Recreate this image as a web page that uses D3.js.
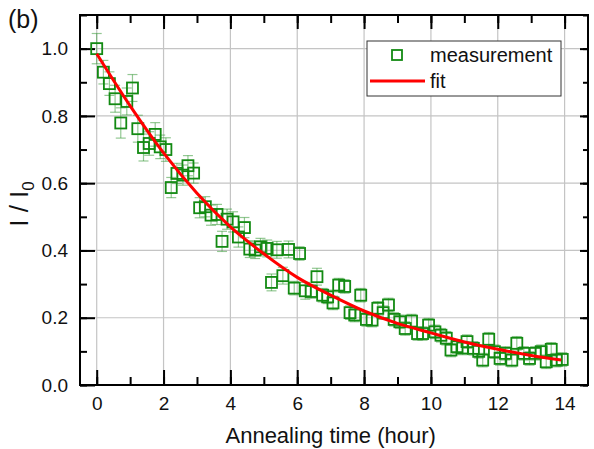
<!DOCTYPE html>
<html>
<head>
<meta charset="utf-8">
<script src="https://cdn.jsdelivr.net/npm/d3@7"></script>
<style>
  body { margin: 0; background: #fff; }
  text { font-family: "Liberation Sans", Arial, sans-serif; fill: #111; }
</style>
</head>
<body>
<div id="chart"></div>
<script>
// measured points (annealing time in hours, normalized intensity)
const times = [0.00, 0.20, 0.38, 0.55, 0.72, 0.90, 1.07, 1.23, 1.40, 1.57, 1.75, 1.90, 2.07, 2.23, 2.40, 2.58,
  2.73, 2.90, 3.08, 3.25, 3.42, 3.60, 3.75, 3.90, 4.08, 4.24, 4.42, 4.58, 4.74, 4.90, 5.10, 5.23, 5.39, 5.57,
  5.74, 5.91, 6.07, 6.24, 6.42, 6.59, 6.76, 6.91, 7.07, 7.24, 7.42, 7.58, 7.72, 7.90, 8.07, 8.24, 8.41, 8.57,
  8.73, 8.90, 9.07, 9.23, 9.42, 9.60, 9.75, 9.93, 10.12, 10.30, 10.46, 10.60, 10.78, 10.95, 11.08, 11.27,
  11.43, 11.55, 11.73, 11.90, 12.07, 12.23, 12.42, 12.57, 12.78, 12.95, 13.12, 13.30, 13.45, 13.60, 13.75, 13.93];
const intensity = [1.000, 0.930, 0.896, 0.851, 0.779, 0.843, 0.883, 0.762, 0.706, 0.718, 0.745, 0.708, 0.700, 0.587,
  0.629, 0.624, 0.652, 0.630, 0.527, 0.530, 0.505, 0.507, 0.427, 0.493, 0.485, 0.440, 0.468, 0.404, 0.401, 0.411,
  0.406, 0.305, 0.402, 0.325, 0.403, 0.288, 0.391, 0.280, 0.278, 0.322, 0.267, 0.262, 0.244, 0.297, 0.293, 0.215,
  0.208, 0.267, 0.195, 0.193, 0.228, 0.215, 0.238, 0.195, 0.188, 0.168, 0.190, 0.153, 0.153, 0.178, 0.158, 0.148,
  0.139, 0.104, 0.114, 0.110, 0.129, 0.109, 0.100, 0.074, 0.136, 0.099, 0.079, 0.094, 0.074, 0.124, 0.094, 0.079,
  0.094, 0.099, 0.069, 0.106, 0.074, 0.076];
const errors = [0.045, 0.035, 0.035, 0.040, 0.045, 0.040, 0.040, 0.040, 0.040, 0.035, 0.035, 0.035, 0.035, 0.030,
  0.030, 0.030, 0.030, 0.030, 0.030, 0.030, 0.030, 0.030, 0.030, 0.030, 0.030, 0.030, 0.030, 0.025, 0.025, 0.025,
  0.025, 0.025, 0.025, 0.025, 0.025, 0.020, 0.020, 0.025, 0.020, 0.025, 0.020, 0.020, 0.020, 0.020, 0.020, 0.020,
  0.020, 0.020, 0.020, 0.020, 0.020, 0.020, 0.020, 0.020, 0.020, 0.020, 0.020, 0.020, 0.020, 0.020, 0.020, 0.020,
  0.020, 0.020, 0.020, 0.020, 0.020, 0.020, 0.020, 0.020, 0.020, 0.020, 0.020, 0.020, 0.020, 0.020, 0.020, 0.020,
  0.020, 0.020, 0.020, 0.020, 0.020, 0.020];

// fit curve at each hour
const fitTimes = [0, 1, 2, 3, 4, 5, 6, 7, 8, 9, 10, 11, 12, 13, 13.9];
const fitValues = [0.985, 0.83, 0.69, 0.57, 0.47, 0.39, 0.32, 0.267, 0.22, 0.183, 0.155, 0.128, 0.106, 0.088, 0.074];

const xTicks = [0, 2, 4, 6, 8, 10, 12, 14];
const yTicks = [0.0, 0.2, 0.4, 0.6, 0.8, 1.0];

const WIDTH = 594, HEIGHT = 449;
const MARGIN = { LEFT: 80, RIGHT: 6, TOP: 15, BOTTOM: 64 };
const W = WIDTH - MARGIN.LEFT - MARGIN.RIGHT;
const H = HEIGHT - MARGIN.TOP - MARGIN.BOTTOM;

const svg = d3.select("#chart").append("svg")
  .attr("width", WIDTH)
  .attr("height", HEIGHT);

const g = svg.append("g")
  .attr("transform", `translate(${MARGIN.LEFT}, ${MARGIN.TOP})`);

const x = d3.scaleLinear().domain([-0.5, 14.7]).range([0, W]);
const y = d3.scaleLinear().domain([0, 1.1]).range([H, 0]);

// grid
g.append("g").selectAll("line").data(xTicks).join("line")
  .attr("x1", d => x(d)).attr("x2", d => x(d))
  .attr("y1", 0).attr("y2", H)
  .attr("stroke", "#c4c4c4").attr("stroke-width", 1.2);
g.append("g").selectAll("line").data(yTicks.filter(d => d > 0)).join("line")
  .attr("x1", 0).attr("x2", W)
  .attr("y1", d => y(d)).attr("y2", d => y(d))
  .attr("stroke", "#c4c4c4").attr("stroke-width", 1.2);

// inward ticks on all four sides
const xMinor = d3.range(0, 15, 1);
const yMinor = d3.range(0, 1.11, 0.1);

function styleAxis(sel) {
  sel.select(".domain").remove();
  sel.selectAll(".tick line").attr("stroke", "#000").attr("stroke-width", 2);
  sel.selectAll(".tick text").style("font-size", "19px").attr("fill", "#111");
}

g.append("g").attr("transform", `translate(0, ${H})`)
  .call(d3.axisBottom(x).tickValues(xMinor).tickSize(-8).tickFormat(""))
  .call(styleAxis);
g.append("g").attr("transform", `translate(0, ${H})`)
  .call(d3.axisBottom(x).tickValues(xTicks).tickSize(-15).tickPadding(12).tickFormat(d3.format("d")))
  .call(styleAxis);
g.append("g")
  .call(d3.axisTop(x).tickValues(xMinor).tickSize(-8).tickFormat(""))
  .call(styleAxis);
g.append("g")
  .call(d3.axisTop(x).tickValues(xTicks).tickSize(-14).tickFormat(""))
  .call(styleAxis);

g.append("g")
  .call(d3.axisLeft(y).tickValues(yMinor).tickSize(-7).tickFormat(""))
  .call(styleAxis);
g.append("g")
  .call(d3.axisLeft(y).tickValues(yTicks).tickSize(-15).tickPadding(12).tickFormat(d3.format(".1f")))
  .call(styleAxis);
g.append("g").attr("transform", `translate(${W}, 0)`)
  .call(d3.axisRight(y).tickValues(yMinor).tickSize(-5).tickFormat(""))
  .call(styleAxis);
g.append("g").attr("transform", `translate(${W}, 0)`)
  .call(d3.axisRight(y).tickValues(yTicks).tickSize(-8).tickFormat(""))
  .call(styleAxis);

// frame
g.append("rect")
  .attr("width", W).attr("height", H)
  .attr("fill", "none").attr("stroke", "#000").attr("stroke-width", 2);

const points = times.map((t, i) => ({ t, v: intensity[i], e: errors[i] }));

// error bars
const eb = g.append("g").attr("stroke", "#3a9a3a").attr("stroke-opacity", 0.55).attr("stroke-width", 1.2);
eb.selectAll(".stem").data(points).join("line")
  .attr("x1", d => x(d.t)).attr("x2", d => x(d.t))
  .attr("y1", d => y(d.v + d.e)).attr("y2", d => y(d.v - d.e));
eb.selectAll(".capT").data(points).join("line")
  .attr("x1", d => x(d.t) - 5).attr("x2", d => x(d.t) + 5)
  .attr("y1", d => y(d.v + d.e)).attr("y2", d => y(d.v + d.e));
eb.selectAll(".capB").data(points).join("line")
  .attr("x1", d => x(d.t) - 5).attr("x2", d => x(d.t) + 5)
  .attr("y1", d => y(d.v - d.e)).attr("y2", d => y(d.v - d.e));

// markers
const S = 11;
g.append("g").selectAll("rect").data(points).join("rect")
  .attr("x", d => x(d.t) - S / 2).attr("y", d => y(d.v) - S / 2)
  .attr("width", S).attr("height", S)
  .attr("fill", "none").attr("stroke", "#128a12").attr("stroke-width", 1.8);

// fit line
const line = d3.line()
  .x((d, i) => x(fitTimes[i]))
  .y(d => y(d))
  .curve(d3.curveMonotoneX);
g.append("path")
  .datum(fitValues)
  .attr("d", line)
  .attr("fill", "none").attr("stroke", "#ff0000").attr("stroke-width", 3);

// legend
const lg = svg.append("g").attr("transform", "translate(367, 41)");
lg.append("rect").attr("width", 194).attr("height", 55)
  .attr("fill", "#fff").attr("stroke", "#333").attr("stroke-width", 1);
lg.append("rect").attr("x", 25).attr("y", 9).attr("width", 10).attr("height", 10)
  .attr("fill", "none").attr("stroke", "#128a12").attr("stroke-width", 1.8);
lg.append("text").attr("x", 63).attr("y", 21).style("font-size", "20px").text("measurement");
lg.append("line").attr("x1", 3).attr("x2", 58).attr("y1", 40).attr("y2", 40)
  .attr("stroke", "#ff0000").attr("stroke-width", 3);
lg.append("text").attr("x", 63).attr("y", 47).style("font-size", "20px").text("fit");

// labels
svg.append("text").attr("x", 8).attr("y", 28).style("font-size", "25px").text("(b)");

svg.append("text")
  .attr("x", MARGIN.LEFT + x(7)).attr("y", 443)
  .attr("text-anchor", "middle").style("font-size", "22px")
  .text("Annealing time (hour)");

const yl = svg.append("text")
  .attr("transform", "translate(28, 204) rotate(-90)")
  .attr("text-anchor", "middle").style("font-size", "26px");
yl.append("tspan").text("I / I");
yl.append("tspan").attr("dy", 6).style("font-size", "17px").text("0");
</script>
</body>
</html>
